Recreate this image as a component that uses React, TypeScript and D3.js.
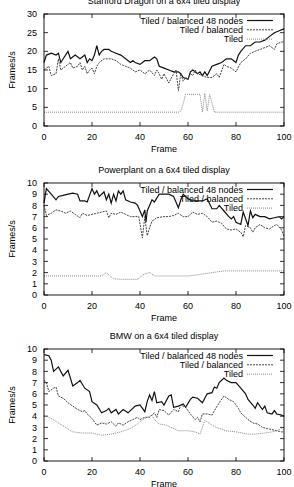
import * as d3 from 'd3';
import {useEffect, useRef} from "react";
import * as React from "react";

type Pt = [number, number];

// frame, frames per second
const dragonBalanced48: Pt[] = [
    [0, 17], [1, 19], [3, 19.5], [5, 19], [6, 19.5], [7, 17], [8, 18], [10, 20], [11, 18], [13, 19],
    [15, 18], [17, 19], [18, 17], [19, 18], [20, 17.5], [21, 19], [22, 21.5], [23, 19], [24, 20],
    [25, 20.5], [27, 20.5], [28, 20], [30, 19.5], [32, 19], [34, 18], [36, 17], [37, 17.5], [38, 17],
    [40, 16.5], [42, 17.5], [44, 17.5], [46, 18.5], [47, 18], [48, 16], [50, 15.5], [52, 15],
    [54, 14.5], [56, 14.5], [57, 14], [58, 13], [60, 12.5], [61, 14.5], [62, 15], [64, 14], [65, 14.5],
    [66, 13.5], [67, 14.5], [68, 13.5], [70, 16], [72, 16.5], [74, 17], [76, 18], [78, 18], [80, 17],
    [81, 19], [82, 20], [84, 21.5], [86, 21.5], [88, 22.5], [90, 22.5], [92, 23], [94, 24], [96, 25],
    [98, 25.5], [100, 26],
];
const dragonBalanced: Pt[] = [
    [0, 15], [2, 16], [3, 13.5], [5, 14], [6, 18], [7, 15], [9, 16], [11, 17], [12, 15.5], [14, 16],
    [15, 17], [16, 15], [17, 16], [18, 14], [19, 15], [20, 15.5], [21, 14], [22, 16], [23, 17],
    [25, 18], [28, 18], [30, 17.5], [32, 16.5], [34, 16], [36, 15.5], [38, 14.5], [40, 15], [42, 14],
    [44, 15], [46, 13.5], [47, 15], [48, 14], [49, 12.5], [50, 14], [52, 11.5], [54, 14], [55, 15],
    [56, 9.5], [57, 14], [58, 12], [59, 13], [60, 12.5], [61, 14], [62, 13.5], [63, 15], [64, 14],
    [66, 13.5], [68, 13], [70, 13], [72, 14], [73, 13], [75, 16.5], [76, 16], [78, 15.5], [80, 14.5],
    [82, 17], [84, 18], [86, 19.5], [88, 20], [90, 20.5], [92, 21], [94, 21.5], [96, 20.5], [97, 22],
    [99, 22.5], [100, 22.5],
];
const dragonTiled: Pt[] = [
    [0, 3.7], [56, 3.7], [57, 4], [58, 6], [59, 8.5], [65, 8.5], [66, 3.7], [67, 8.7], [68, 4],
    [69, 8.5], [71, 3.7], [100, 3.7],
];

const plantBalanced48: Pt[] = [
    [0, 8.2], [1, 9.5], [3, 9], [5, 8.5], [6, 8.8], [8, 8.9], [10, 9], [12, 9.1], [14, 9], [15, 8.4],
    [17, 8.4], [18, 8.3], [20, 9.5], [21, 9], [22, 9.3], [23, 8.8], [25, 9.2], [26, 8.5], [27, 9],
    [28, 8.2], [29, 9], [30, 8.4], [31, 9.3], [32, 9], [33, 9.3], [34, 8.5], [36, 8.3], [38, 8.2],
    [39, 8], [40, 7.5], [41, 7], [42, 7.6], [42.5, 6.5], [43, 7.5], [45, 8.5], [46, 8.3], [48, 9],
    [50, 9], [52, 9], [54, 8.8], [56, 7.8], [57, 8.5], [58, 9], [60, 8.6], [62, 8.4], [66, 8.4],
    [68, 8.6], [70, 7.7], [72, 7.7], [73, 8], [75, 7.5], [77, 7], [78, 6.8], [79, 7], [80, 6.5],
    [82, 6.3], [83, 7.4], [85, 6.2], [86, 7.5], [87, 6.9], [88, 7.2], [90, 7], [92, 7], [94, 6.8],
    [96, 6.9], [98, 7], [99, 6.8], [100, 7],
];
const plantBalanced: Pt[] = [
    [0, 8], [1, 7.1], [3, 7.3], [5, 7.6], [7, 7.5], [9, 7.3], [11, 7.5], [13, 7.2], [15, 6.9],
    [16, 7.3], [18, 7.1], [20, 7.2], [22, 7.3], [24, 7.4], [26, 7.5], [27, 6.9], [28, 7.3], [30, 7.2],
    [32, 7.4], [34, 7.2], [36, 7], [38, 7], [39.5, 7], [41, 5.1], [42, 7], [43, 5.3], [44, 6],
    [45, 6.6], [47, 6.9], [50, 7], [52, 7], [54, 7.1], [56, 7.3], [58, 7], [60, 7], [62, 7.4],
    [64, 7.2], [66, 7.3], [68, 7], [70, 6.5], [72, 6.6], [74, 6.4], [76, 5.9], [78, 5.8], [80, 5.9],
    [82, 5.6], [83, 5.2], [84, 6.2], [86, 6], [87, 5.6], [88, 6], [90, 6.3], [92, 6], [94, 5.9],
    [96, 6.2], [97, 6.3], [99, 5.8], [100, 5.2],
];
const plantTiled: Pt[] = [
    [0, 1.7], [24, 1.7], [26, 2], [27, 1.8], [29, 1.45], [32, 1.4], [39, 1.4], [40, 1.6], [42, 1.9],
    [44, 2], [46, 1.7], [60, 1.7], [64, 1.8], [70, 2], [75, 2.15], [100, 2.15],
];

const bmwBalanced48: Pt[] = [
    [0, 9.5], [2, 9.4], [3, 9], [4, 8], [6, 8.4], [8, 7.6], [10, 8.1], [12, 6.7], [14, 7], [15, 7.2],
    [17, 6.5], [19, 6.2], [20, 5.3], [22, 5], [24, 4.3], [26, 4.5], [27, 4.7], [28, 4.3], [30, 4.6],
    [31, 4.2], [33, 4.6], [35, 4.3], [36, 4.5], [38, 4.9], [40, 5], [42, 4.4], [43, 5.3], [44, 5.9],
    [45, 5.4], [46, 6.2], [47, 5.2], [49, 5.3], [50, 5], [52, 5.8], [53, 5.9], [54, 4.8], [56, 4.9],
    [58, 5.1], [59, 4.8], [61, 5.5], [62, 5.7], [64, 5.6], [66, 5.2], [68, 6], [70, 6.1], [71, 6.6],
    [72, 6.5], [73, 7], [75, 7.4], [76, 7.2], [78, 7], [80, 7], [82, 6.5], [84, 6], [85, 5.5], [87, 5],
    [88, 4.7], [89, 5.2], [91, 4.6], [92, 4.9], [93, 4.3], [95, 4.2], [96, 4.5], [97, 4.2], [99, 4.1],
    [100, 4],
];
const bmwBalanced: Pt[] = [
    [0, 7.2], [1, 7], [2, 6.2], [4, 6.5], [5, 6.6], [6, 5.8], [8, 5.6], [10, 5.2], [12, 4.9],
    [14, 4.6], [16, 4.4], [17, 4.5], [18, 4.2], [20, 3.8], [22, 3.2], [24, 3.4], [26, 3.3], [28, 3.5],
    [30, 3.1], [31, 3.4], [33, 3.2], [35, 3.5], [37, 3.7], [39, 3.9], [40, 3.7], [42, 3.9], [44, 3.9],
    [46, 4.3], [47, 3.9], [48, 4.6], [50, 4.5], [52, 4.1], [54, 4.6], [56, 4.4], [57, 5], [59, 4.8],
    [61, 4.2], [63, 3.7], [64, 3.9], [65, 3.5], [66, 4.2], [68, 4.2], [70, 4.1], [71, 4.5], [73, 5.2],
    [75, 5.8], [77, 5.5], [79, 5.3], [80, 5], [81, 4.7], [82, 4.3], [85, 3.7], [87, 3.4], [89, 3.3],
    [91, 3], [93, 2.9], [95, 2.8], [97, 2.7], [99, 2.6], [100, 2.6],
];
const bmwTiled: Pt[] = [
    [0, 4.1], [3, 3.8], [6, 3.4], [9, 3], [12, 2.6], [16, 2.5], [20, 2.5], [24, 2.3], [28, 2.4],
    [32, 2.6], [36, 2.9], [39, 3.3], [40, 3.5], [42, 3.8], [45, 4.1], [46, 3.7], [48, 3.3], [51, 3.2],
    [53, 3], [56, 2.7], [60, 2.7], [63, 2.6], [65, 2.4], [67, 3.6], [68, 3.5], [70, 3.2], [73, 2.9],
    [76, 2.7], [80, 2.6], [85, 2.4], [88, 2.4], [92, 2.5], [95, 2.6], [97, 2.7], [99, 2.9], [100, 2.8],
];

const seriesNames = ["Tiled / balanced 48 nodes", "Tiled / balanced", "Tiled"];
const seriesStyle = [
    {stroke: "#111", dash: null, width: 1.2},
    {stroke: "#444", dash: "2,1", width: 1},
    {stroke: "#888", dash: "1,1", width: 1},
];

const xTicks = [0, 20, 40, 60, 80, 100];

interface PanelSpec {
    title: string;
    top: number;      // svg y of plot top
    yMax: number;
    yTicks: number[];
    series: Pt[][];
}

const panels: PanelSpec[] = [
    {title: "Stanford Dragon on a 6x4 tiled display", top: 14, yMax: 30,
        yTicks: [0, 5, 10, 15, 20, 25, 30], series: [dragonBalanced48, dragonBalanced, dragonTiled]},
    {title: "Powerplant on a 6x4 tiled display", top: 183, yMax: 10,
        yTicks: d3.range(0, 11), series: [plantBalanced48, plantBalanced, plantTiled]},
    {title: "BMW on a 6x4 tiled display", top: 349, yMax: 10,
        yTicks: d3.range(0, 11), series: [bmwBalanced48, bmwBalanced, bmwTiled]},
];

const W = 294, H = 487;
const left = 44, right = 284, plotH = 112;
const font = "'Liberation Sans', Arial, sans-serif";

export default function App() {
    const svgRef = useRef<SVGSVGElement | null>(null);

    useEffect(() => {
        if (!svgRef.current) return;
        const svg = d3.select(svgRef.current);
        svg.selectAll("*").remove();

        panels.forEach(p => {
            const bottom = p.top + plotH;
            const x = d3.scaleLinear().domain([0, 100]).range([left, right]);
            const y = d3.scaleLinear().domain([0, p.yMax]).range([bottom, p.top]);
            const g = svg.append("g").style("font-family", font).style("font-size", "9px");

            // ticks on all four sides, pointing inward
            xTicks.forEach(t => {
                g.append("line").attr("x1", x(t)).attr("x2", x(t)).attr("y1", bottom).attr("y2", bottom - 4)
                    .attr("stroke", "#000").attr("stroke-width", 0.8);
                g.append("line").attr("x1", x(t)).attr("x2", x(t)).attr("y1", p.top).attr("y2", p.top + 4)
                    .attr("stroke", "#000").attr("stroke-width", 0.8);
                g.append("text").attr("x", x(t)).attr("y", bottom + 13.5).attr("text-anchor", "middle").text(t);
            });
            p.yTicks.forEach(t => {
                g.append("line").attr("x1", left).attr("x2", left + 4).attr("y1", y(t)).attr("y2", y(t))
                    .attr("stroke", "#000").attr("stroke-width", 0.8);
                g.append("line").attr("x1", right).attr("x2", right - 4).attr("y1", y(t)).attr("y2", y(t))
                    .attr("stroke", "#000").attr("stroke-width", 0.8);
                g.append("text").attr("x", 37).attr("y", y(t)).attr("dy", "0.35em")
                    .attr("text-anchor", "end").text(t);
            });

            const line = d3.line<Pt>().x(d => x(d[0])).y(d => y(d[1]));
            p.series.forEach((s, i) => {
                const st = seriesStyle[i];
                g.append("path").datum(s).attr("d", line).attr("fill", "none")
                    .attr("stroke", st.stroke).attr("stroke-width", st.width)
                    .attr("stroke-dasharray", st.dash);
            });

            // legend
            seriesNames.forEach((name, i) => {
                const st = seriesStyle[i];
                const ly = p.top + 6.5 + i * 9.3;
                g.append("text").attr("x", 243).attr("y", ly).attr("dy", "0.35em")
                    .attr("text-anchor", "end").text(name);
                g.append("line").attr("x1", 247).attr("x2", 273).attr("y1", ly).attr("y2", ly)
                    .attr("stroke", st.stroke).attr("stroke-width", st.width)
                    .attr("stroke-dasharray", st.dash);
            });

            g.append("rect").attr("x", left).attr("y", p.top).attr("width", right - left).attr("height", plotH)
                .attr("fill", "none").attr("stroke", "#000").attr("stroke-width", 0.9);

            g.append("text").attr("x", (left + right) / 2).attr("y", p.top - 10)
                .attr("text-anchor", "middle").text(p.title);
            g.append("text").attr("x", (left + right) / 2).attr("y", bottom + 26)
                .attr("text-anchor", "middle").text("Frame");
            g.append("text").attr("transform", `translate(15,${p.top + plotH / 2}) rotate(-90)`)
                .attr("text-anchor", "middle").text("Frames/s");
        });
    }, []);

    return (
        <div style={{position: "absolute", left: 0, top: 0}}>
            <svg ref={svgRef} width={W} height={H} style={{display: "block", background: "#fff"}}></svg>
        </div>
    );
}
